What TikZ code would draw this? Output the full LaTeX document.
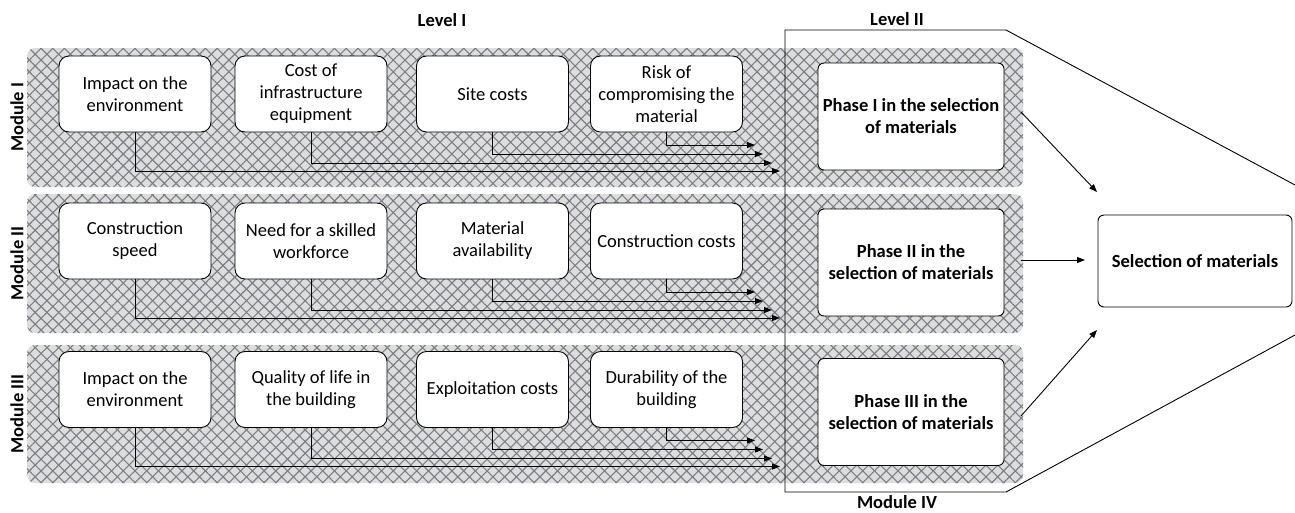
\documentclass[tikz,border=0pt]{standalone}
\usepackage{fontspec}
\setmainfont{Carlito}
\usetikzlibrary{arrows.meta,patterns.meta}
\definecolor{bandbg}{RGB}{221,221,221}
\definecolor{hatch}{RGB}{122,126,134}
\begin{document}
\begin{tikzpicture}[x=1pt,y=-1pt,
  font=\fontsize{18.5}{22}\selectfont,
  band/.style={rounded corners=8pt, fill=bandbg,
    postaction={pattern={Lines[angle=45,distance=8.3pt,line width=1.1pt]}, pattern color=hatch},
    postaction={pattern={Lines[angle=-45,distance=8.3pt,line width=1.1pt]}, pattern color=hatch}},
  item/.style={draw=black, line width=0.9pt, fill=white, rounded corners=10pt,
    minimum width=152pt, minimum height=76pt, align=center, inner sep=2pt},
  phase/.style={draw=black, line width=0.9pt, fill=white, rounded corners=6pt,
    minimum width=186pt, minimum height=107pt, align=center, inner sep=2pt,
    font=\fontsize{18.5}{22}\selectfont\bfseries},
  lbl/.style={font=\fontsize{18.5}{22}\selectfont\bfseries, inner sep=0pt},
  link/.style={line width=0.9pt, -{Triangle[length=8pt,width=6pt]}},
  frame/.style={line width=0.9pt}
]
\useasboundingbox (0,0) rectangle (1295,512);

% hatched module bands
\path[band] (27,48) rectangle (1023,187);
\path[band] (27,194) rectangle (1023,333);
\path[band] (27,345) rectangle (1023,483);

% Level II / Module IV frame
\draw[frame] (1295,185) -- (1006,30) -- (785,30) -- (785,492) -- (1006,492) -- (1295,335);

% headings
\node[lbl] (lvlI) at (442,20) {Level I};
\node[lbl] (lvlII) at (897,19) {Level II};
\node[lbl] (modIV) at (897,502) {Module IV};
\node[lbl, rotate=90] (modI) at (17,117.5) {Module I};
\node[lbl, rotate=90] (modII) at (17,263.5) {Module II};
\node[lbl, rotate=90] (modIII) at (17,414) {Module III};

% criteria, module I
\node[item] (a1) at (135,94) {Impact on the\\environment};
\node[item] (a2) at (311,94) {Cost of\\infrastructure\\equipment};
\node[item] (a3) at (492.5,94) {Site costs};
\node[item] (a4) at (666.5,94) {Risk of\\compromising the\\material};
% criteria, module II
\node[item] (b1) at (135,241) {Construction\\speed};
\node[item] (b2) at (311,241) {Need for a skilled\\workforce};
\node[item] (b3) at (492.5,241) {Material\\availability};
\node[item] (b4) at (666.5,241) {Construction costs};
% criteria, module III
\node[item] (c1) at (135,389.5) {Impact on the\\environment};
\node[item] (c2) at (311,389.5) {Quality of life in\\the building};
\node[item] (c3) at (492.5,389.5) {Exploitation costs};
\node[item] (c4) at (666.5,389.5) {Durability of the\\building};

% arrow ends of each module
\foreach \r/\y in {a/132,b/279,c/427.5}{
  \coordinate (\r t1) at (780,\y+39);
  \coordinate (\r t2) at (772,\y+31);
  \coordinate (\r t3) at (763,\y+22);
  \coordinate (\r t4) at (755,\y+13);
}
\foreach \r in {a,b,c}{
  \foreach \k in {1,2,3,4}{
    \draw[link] (\r\k.south) |- (\r t\k);
  }
}

% phases
\node[phase] (p1) at (911,116.5) {Phase I in the selection\\of materials};
\node[phase] (p2) at (911,262.5) {Phase II in the\\selection of materials};
\node[phase] (p3) at (911,412) {Phase III in the\\selection of materials};

\node[draw=black, line width=0.9pt, fill=white, rounded corners=6pt,
  minimum width=194pt, minimum height=92pt, font=\fontsize{18.5}{22}\selectfont\bfseries]
  (sel) at (1195,261) {Selection of materials};

\coordinate (p1s) at (1021,112);
\coordinate (p2s) at (1021,260);
\coordinate (p3s) at (1021,416);
\coordinate (e1) at (1097,192);
\coordinate (e2) at (1085,260);
\coordinate (e3) at (1097,330);
\draw[link] (p1s) -- (e1);
\draw[link] (p2s) -- (e2);
\draw[link] (p3s) -- (e3);
\end{tikzpicture}
\end{document}
